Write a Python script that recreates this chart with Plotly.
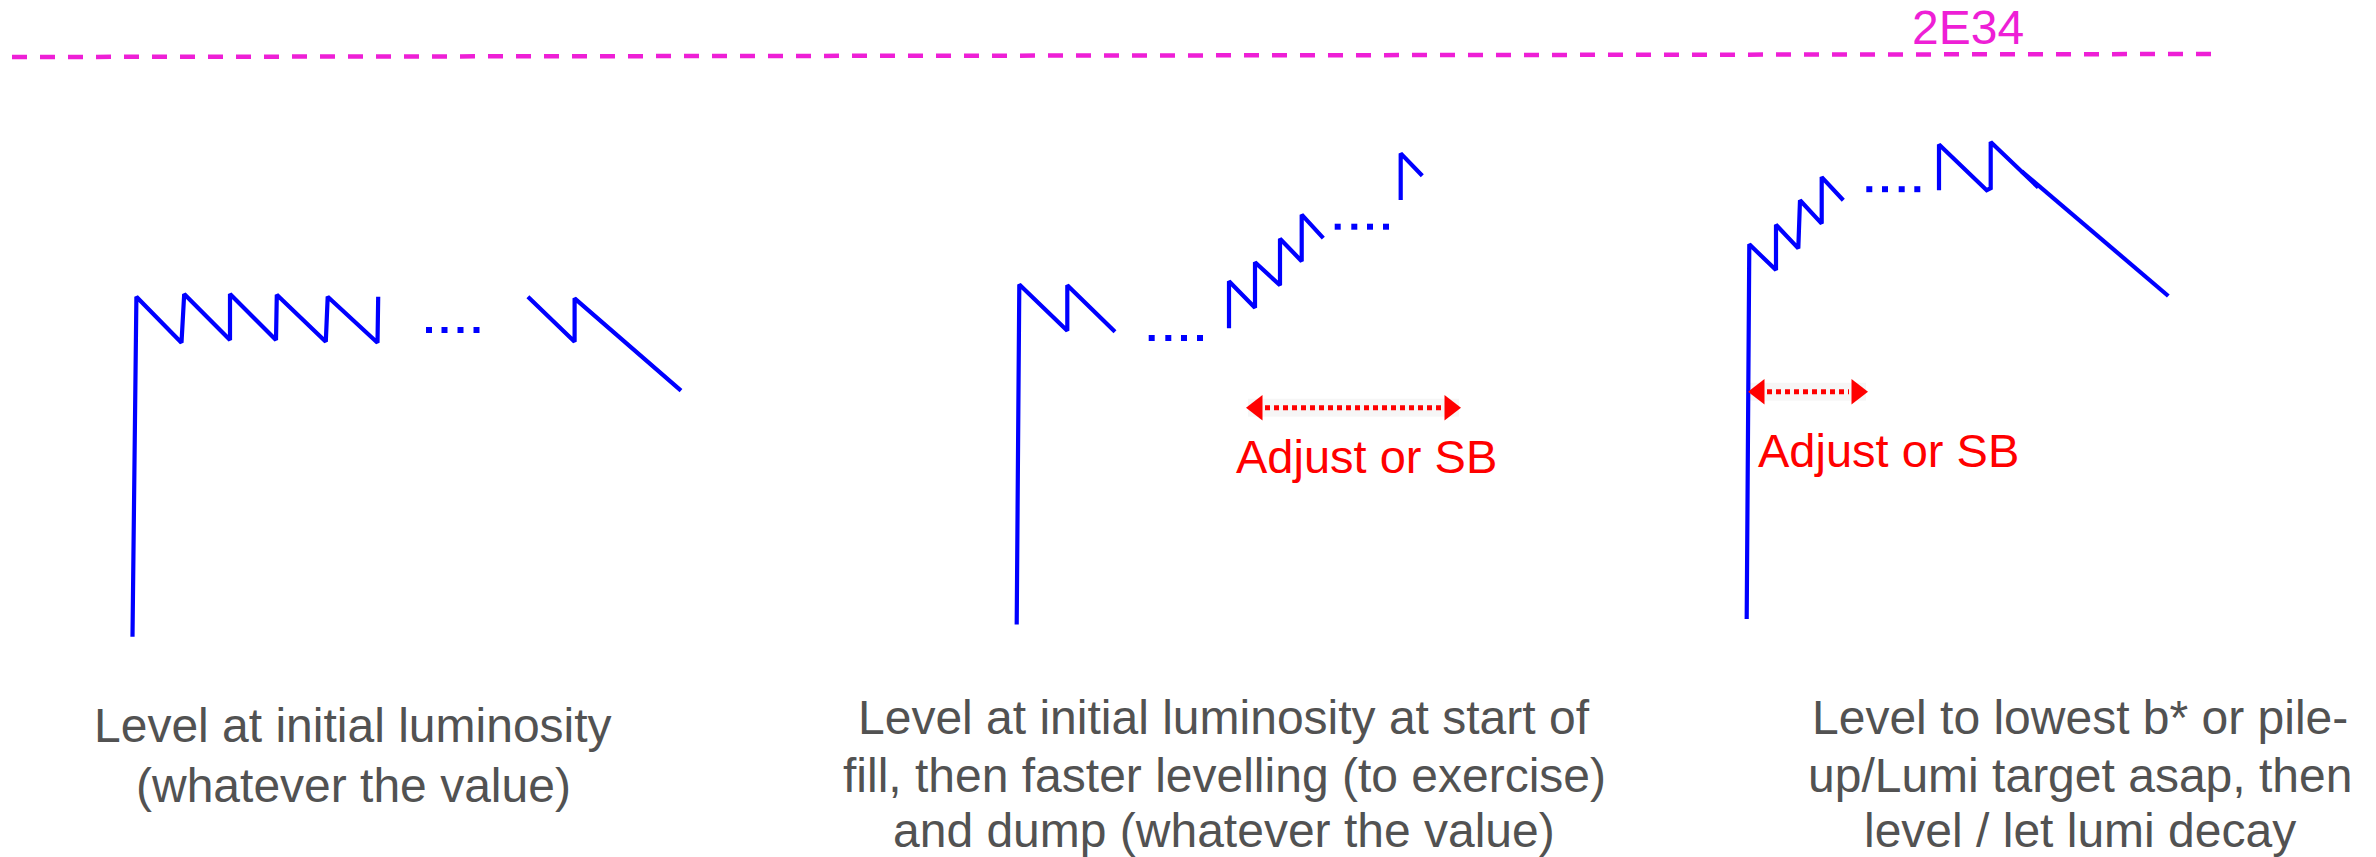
import plotly.graph_objects as go

# ---------------- data (diagram coordinates, y grows downward) ----------------
# target line (2E34)
TARGET_X = [12, 2212]
TARGET_Y = [57, 54]
TARGET_LABEL = "2E34"

# panel 1: level at initial luminosity
P1_X = [132.5, 136.4, 181.5, 184.2, 230, 230, 276, 276.8, 325.8, 327.7, 377.5, 378.2,
        None, 527.9, 574.6, 574.6, 681]
P1_Y = [636.7, 296.7, 342.7, 294, 340, 294, 340, 294.7, 341.7, 296.7, 342.7, 296.7,
        None, 296.7, 341.7, 298.3, 390.7]
P1_DOTS_X = [429, 444.5, 460.5, 476.5]
P1_DOTS_Y = [330, 330, 330, 330]

# panel 2: initial level then faster levelling
P2_X = [1016.7, 1019.3, 1067.3, 1067.3, 1115,
        None, 1229, 1229, 1255, 1255, 1280, 1280, 1301.7, 1301.7, 1323.3,
        None, 1400.7, 1400.7, 1422.3]
P2_Y = [624.5, 284.6, 330.7, 285.3, 331.8,
        None, 328.3, 281.2, 307.7, 262.2, 285.3, 238.8, 261.2, 214.7, 238.1,
        None, 199.9, 153.4, 175.8]
P2_DOTS_X = [1151.7, 1168.3, 1184, 1200, None, 1337.7, 1354.3, 1370, 1386]
P2_DOTS_Y = [338, 338, 338, 338, None, 226.7, 226.7, 226.7, 226.7]

# panel 3: level to target asap, then decay
P3_X = [1746.7, 1748.5, 1749.3, 1776, 1776, 1798.3, 1800, 1821.7, 1821.7, 1843.3,
        None, 1939, 1939, 1986.7, 1990.7, 1990.7, 2038.3,
        None, 2021.7, 2168.3]
P3_Y = [619, 290, 244.3, 270.1, 224.7, 248.4, 200.2, 223.6, 177.1, 200.2,
        None, 190.2, 144.4, 190.2, 188.2, 142, 187.5,
        None, 171.3, 296]
P3_DOTS_X = [1869.3, 1885, 1901.7, 1917.3]
P3_DOTS_Y = [189.2, 189.2, 189.2, 189.2]

# "Adjust or SB" arrows
ARROW2_X = [1248, 1459]
ARROW2_Y = [407.7, 407.7]
ARROW3_X = [1750, 1866]
ARROW3_Y = [391.7, 391.7]
ADJUST_LABEL = "Adjust or SB"
ADJUST_POS = [(1366, 456), (1888, 450)]

# captions
CAPTIONS = [
    (353, [725, 785], ["Level at initial luminosity", "(whatever the value)"]),
    (1224, [717, 775, 830], ["Level at initial luminosity at start of",
                             "fill, then faster levelling (to exercise)",
                             "and dump (whatever the value)"]),
    (2080, [717, 775, 830], ["Level to lowest b* or pile-",
                             "up/Lumi target asap, then",
                             "level / let lumi decay"]),
]

BLUE = "#0000FF"
RED = "#FF0000"
MAGENTA = "#EE1FD6"
GREY = "#525252"
FONT = "Liberation Sans"

fig = go.Figure()

# target dashed line
fig.add_trace(go.Scatter(x=TARGET_X, y=TARGET_Y, mode="lines",
                         line=dict(color=MAGENTA, width=4.5, dash="15px,13px")))

# luminosity curves
for xs, ys in [(P1_X, P1_Y), (P2_X, P2_Y), (P3_X, P3_Y)]:
    fig.add_trace(go.Scatter(x=xs, y=ys, mode="lines",
                             line=dict(color=BLUE, width=4.2), connectgaps=False))

# ellipsis dots
for xs, ys in [(P1_DOTS_X, P1_DOTS_Y), (P2_DOTS_X, P2_DOTS_Y), (P3_DOTS_X, P3_DOTS_Y)]:
    fig.add_trace(go.Scatter(x=xs, y=ys, mode="markers",
                             marker=dict(symbol="square", size=6, color=BLUE,
                                         line=dict(width=0))))

# red double arrows
for ax_, ay_ in [(ARROW2_X, ARROW2_Y), (ARROW3_X, ARROW3_Y)]:
    fig.add_trace(go.Scatter(x=ax_, y=ay_, mode="lines",
                             line=dict(color="rgba(0,0,0,0.035)", width=18)))
    fig.add_trace(go.Scatter(x=[ax_[0] + 17, ax_[1] - 17], y=ay_, mode="lines",
                             line=dict(color=RED, width=5, dash="5px,4px")))
    fig.add_trace(go.Scatter(x=[ax_[0] + 9], y=[ay_[0]], mode="markers",
                             marker=dict(symbol="triangle-left", size=22, color=RED,
                                         line=dict(width=0))))
    fig.add_trace(go.Scatter(x=[ax_[1] - 9], y=[ay_[1]], mode="markers",
                             marker=dict(symbol="triangle-right", size=22, color=RED,
                                         line=dict(width=0))))

annotations = [dict(x=1968, y=27.5, text=TARGET_LABEL, showarrow=False,
                    xanchor="center", yanchor="middle",
                    font=dict(family=FONT, size=48, color=MAGENTA))]
for (px, py) in ADJUST_POS:
    annotations.append(dict(x=px, y=py, text=ADJUST_LABEL, showarrow=False,
                            xanchor="center", yanchor="middle",
                            font=dict(family=FONT, size=47, color=RED)))
for cx, ys, lines in CAPTIONS:
    for yy, txt in zip(ys, lines):
        annotations.append(dict(x=cx, y=yy, text=txt, showarrow=False,
                                xanchor="center", yanchor="middle",
                                font=dict(family=FONT, size=48, color=GREY)))

fig.update_layout(
    width=2376, height=857,
    margin=dict(l=0, r=0, t=0, b=0),
    paper_bgcolor="white", plot_bgcolor="white",
    showlegend=False, hovermode=False,
    font=dict(family=FONT),
    xaxis=dict(range=[0, 2376], visible=False, fixedrange=True),
    yaxis=dict(range=[857, 0], visible=False, fixedrange=True),
    annotations=annotations,
)

fig.write_html(
    "out.html",
    config={"displayModeBar": False},
    post_script="document.body.style.margin='0';document.body.style.overflow='hidden';",
)
